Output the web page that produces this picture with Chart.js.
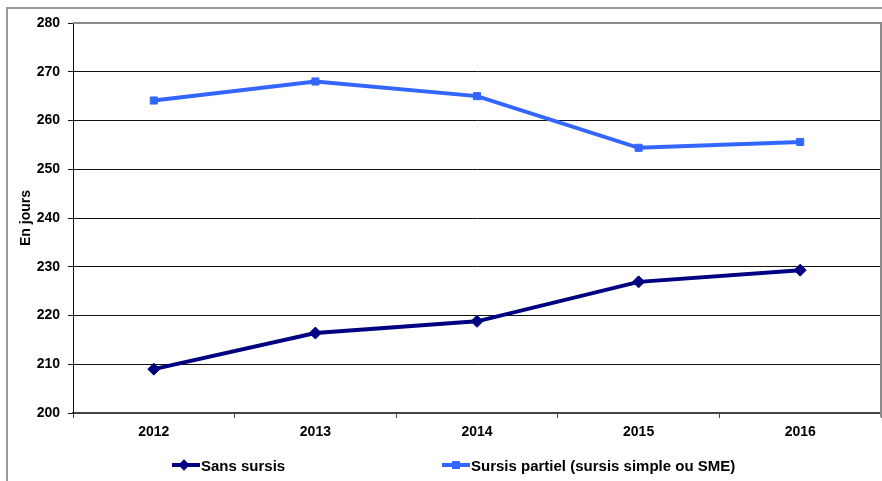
<!DOCTYPE html>
<html lang="fr">
<head>
<meta charset="utf-8">
<title>Durée moyenne en jours</title>
<script src="https://cdn.jsdelivr.net/npm/chart.js@4.4.1/dist/chart.umd.min.js"></script>
<style>
    html, body {
        margin: 0;
        padding: 0;
        background: #ffffff;
        overflow: hidden;
    }
    #wrap {
        position: relative;
        width: 882px;
        height: 481px;
        overflow: hidden;
        font-family: 'Liberation Sans', Arial, sans-serif;
    }
    #frame {
        position: absolute;
        left: 6px;
        top: 7px;
        width: 900px;
        height: 520px;
        border: 2px solid #9a9a9a;
        box-sizing: border-box;
    }
    #chart {
        position: absolute;
        left: 0;
        top: 0;
    }
    .legend-item {
        position: absolute;
        top: 455px;
        height: 20px;
        display: flex;
        align-items: center;
        font-weight: bold;
        font-size: 15px;
        color: #000;
        white-space: nowrap;
    }
    .legend-swatch {
        position: relative;
        width: 28px;
        height: 20px;
        margin-right: 1px;
    }
    .legend-swatch .line {
        position: absolute;
        left: 0;
        right: 0;
        top: 8px;
        height: 4px;
    }
    .legend-swatch .mark {
        position: absolute;
    }
</style>
</head>
<body>
<div id="wrap">
    <div id="frame"></div>
    <canvas id="chart" width="888" height="481"></canvas>
</div>
<script>
    // Années et durées moyennes (en jours)
    const years = ['2012', '2013', '2014', '2015', '2016'];
    const sansSursis = [209.0, 216.4, 218.8, 226.9, 229.3];
    const sursisPartiel = [264.1, 268.0, 265.0, 254.4, 255.6];
    const seriesNames = ['Sans sursis', 'Sursis partiel (sursis simple ou SME)'];
    const yTicks = { min: 200, max: 280, step: 10 };

    const NAVY = '#000080';
    const BLUE = '#3366ff';
    const FONT = "'Liberation Sans', Arial, sans-serif";

    // Gray frame on the top and right edges of the plot area
    const plotFrame = {
        id: 'plotFrame',
        afterDraw(chart) {
            const { ctx, chartArea: a } = chart;
            ctx.save();
            ctx.strokeStyle = '#8a8a8a';
            ctx.lineWidth = 2;
            ctx.beginPath();
            ctx.moveTo(a.left, a.top);
            ctx.lineTo(a.right, a.top);
            ctx.lineTo(a.right, a.bottom + 4);
            ctx.stroke();
            ctx.restore();
        }
    };

    const chart = new Chart(document.getElementById('chart'), {
        type: 'line',
        data: {
            labels: years,
            datasets: [{
                label: seriesNames[0],
                data: sansSursis,
                borderColor: NAVY,
                backgroundColor: NAVY,
                borderWidth: 4,
                pointStyle: 'rectRot',
                pointRadius: 6,
                pointBorderWidth: 1,
                tension: 0
            }, {
                label: seriesNames[1],
                data: sursisPartiel,
                borderColor: BLUE,
                backgroundColor: BLUE,
                borderWidth: 4,
                pointStyle: 'rect',
                pointRadius: 5,
                pointBorderWidth: 1,
                tension: 0
            }]
        },
        options: {
            responsive: false,
            animation: false,
            layout: {
                padding: { top: 23, right: 2, bottom: 38, left: 0 }
            },
            plugins: {
                legend: { display: false },
                tooltip: { enabled: false }
            },
            scales: {
                x: {
                    offset: true,
                    grid: {
                        offset: true,
                        drawOnChartArea: false,
                        drawTicks: true,
                        tickLength: 5,
                        color: '#444444',
                        lineWidth: 1
                    },
                    border: { color: '#444444', width: 2 },
                    ticks: {
                        color: '#000',
                        padding: 6,
                        font: { family: FONT, size: 14, weight: 'bold' }
                    },
                    afterFit(scale) {
                        scale.height = 30;
                    }
                },
                y: {
                    min: yTicks.min,
                    max: yTicks.max,
                    ticks: {
                        stepSize: yTicks.step,
                        color: '#000',
                        padding: 8,
                        font: { family: FONT, size: 14, weight: 'bold' }
                    },
                    grid: {
                        color: (c) => c.tick && c.tick.value === yTicks.max ? '#8a8a8a' : '#111111',
                        lineWidth: 1,
                        tickLength: 5,
                        tickColor: '#111111'
                    },
                    border: { color: '#111111', width: 1 },
                    title: {
                        display: true,
                        text: 'En jours',
                        color: '#000',
                        padding: { top: 18, bottom: 0 },
                        font: { family: FONT, size: 14, weight: 'bold' }
                    },
                    afterFit(scale) {
                        scale.width = 73;
                    }
                }
            }
        },
        plugins: [plotFrame]
    });

    // Legend built from the datasets, line + marker like the plotted series
    const legendX = [172, 442];
    chart.data.datasets.forEach((ds, i) => {
        const item = document.createElement('div');
        item.className = 'legend-item';
        item.style.left = legendX[i] + 'px';

        const sw = document.createElement('div');
        sw.className = 'legend-swatch';
        const line = document.createElement('div');
        line.className = 'line';
        line.style.background = ds.borderColor;
        const mark = document.createElement('div');
        mark.className = 'mark';
        mark.style.background = ds.backgroundColor;
        if (ds.pointStyle === 'rectRot') {
            mark.style.width = '8px';
            mark.style.height = '8px';
            mark.style.left = '8px';
            mark.style.top = '6px';
            mark.style.transform = 'rotate(45deg)';
        } else {
            mark.style.width = '8px';
            mark.style.height = '8px';
            mark.style.left = '10px';
            mark.style.top = '6px';
        }
        sw.appendChild(line);
        sw.appendChild(mark);

        const txt = document.createElement('span');
        txt.textContent = ds.label;

        item.appendChild(sw);
        item.appendChild(txt);
        document.getElementById('wrap').appendChild(item);
    });
</script>
</body>
</html>
